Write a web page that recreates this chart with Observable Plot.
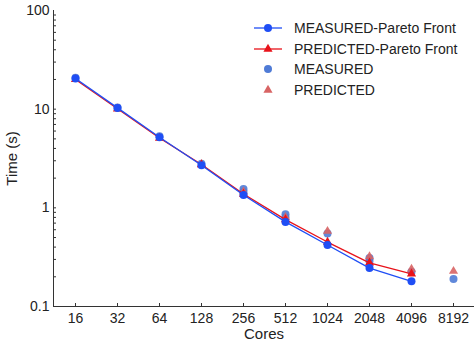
<!DOCTYPE html>
<html>
<head>
<meta charset="utf-8">
<script src="https://cdn.jsdelivr.net/npm/d3@7"></script>
<script src="https://cdn.jsdelivr.net/npm/@observablehq/plot@0.6"></script>
<style>
  body { margin: 0; background: #fff; font-family: "Liberation Sans", Arial, sans-serif; }
  #chart { position: relative; width: 474px; height: 343px; }
  #chart svg.plot { display: block; }
  .legend { position: absolute; left: 254px; top: 18px; font-size: 14px; color: #222; }
  .legend .row { display: flex; align-items: center; height: 20.5px; white-space: nowrap; }
  .legend .row svg { margin-right: 12px; flex: none; }
</style>
</head>
<body>
<div id="chart"></div>
<script>
// Core counts (categorical x axis, powers of two)
const cores = [16, 32, 64, 128, 256, 512, 1024, 2048, 4096, 8192];
const coreLabels = cores.map(String);

// Pareto fronts (time in seconds)
const paretoCores = [16, 32, 64, 128, 256, 512, 1024, 2048, 4096];
const measuredPareto = [20.5, 10.3, 5.2, 2.7, 1.35, 0.72, 0.42, 0.245, 0.18];
const predictedPareto = [20.0, 10.1, 5.1, 2.75, 1.38, 0.76, 0.45, 0.277, 0.214];

// All measured / predicted configurations
const measuredCores = [16, 32, 64, 128, 256, 256, 512, 512, 1024, 2048, 2048, 4096, 8192];
const measuredTimes = [20.8, 10.4, 5.3, 2.8, 1.55, 1.45, 0.86, 0.8, 0.55, 0.31, 0.29, 0.225, 0.19];
const predictedCores = [128, 256, 512, 1024, 2048, 4096, 8192];
const predictedTimes = [2.75, 1.45, 0.8, 0.58, 0.32, 0.24, 0.228];

// Axis ticks
const yTicks = [0.1, 1, 10, 100];
const yMinor = [0.1, 1, 10].flatMap(d => [1, 2, 3, 4, 5, 6, 7, 8, 9].map(k => +(d * k).toPrecision(2)));

const colors = {
  measuredPareto: "#1f4ef5",
  predictedPareto: "#e8121a",
  measured: "#4f7bd6",
  predicted: "#d86464"
};

const W = 474, H = 343;
const mL = 53, mR = 0, mT = 10, mB = 37;

const pareto = paretoCores.map((c, i) => ({c: String(c), m: measuredPareto[i], p: predictedPareto[i]}));
const measured = measuredCores.map((c, i) => ({c: String(c), t: measuredTimes[i]}));
const predicted = predictedCores.map((c, i) => ({c: String(c), t: predictedTimes[i]}));

const chart = Plot.plot({
  width: W,
  height: H,
  marginLeft: mL,
  marginRight: mR,
  marginTop: mT,
  marginBottom: mB,
  style: {fontFamily: "Liberation Sans, Arial, sans-serif", fontSize: "14px", color: "#222", background: "white", overflow: "visible"},
  x: {type: "point", domain: coreLabels, padding: 0.4},
  y: {type: "log", domain: [0.1, 100]},
  marks: [
    // inward tick marks
    Plot.ruleY(yMinor, {y: d => d, insetRight: W - mL - mR - 3, stroke: "#333", strokeWidth: 1}),
    Plot.ruleX(coreLabels, {x: d => d, insetTop: H - mT - mB - 3, stroke: "#333", strokeWidth: 1}),
    // tick labels
    Plot.axisX({tickSize: 0, tickPadding: 7, fontSize: 14, label: null}),
    Plot.axisY({ticks: yTicks, tickFormat: d => String(d), tickSize: 0, tickPadding: 4, fontSize: 14, label: null}),
    // axis titles
    Plot.axisX({ticks: [], label: "Cores", labelAnchor: "center", labelOffset: 32, labelArrow: "none", fontSize: 15}),
    Plot.axisY({ticks: [], label: "Time (s)", labelAnchor: "center", labelOffset: 47, labelArrow: "none", fontSize: 15}),
    Plot.frame({anchor: "left", stroke: "#333"}),
    Plot.frame({anchor: "bottom", stroke: "#333"}),
    // all configurations
    Plot.dot(measured, {x: "c", y: "t", r: 4, fill: colors.measured, fillOpacity: 0.9, symbol: "circle"}),
    Plot.dot(predicted, {x: "c", y: "t", r: 3.4, fill: colors.predicted, fillOpacity: 0.9, symbol: "triangle"}),
    // pareto fronts
    Plot.line(pareto, {x: "c", y: "p", stroke: colors.predictedPareto, strokeWidth: 1.3}),
    Plot.dot(pareto, {x: "c", y: "p", r: 3.4, fill: colors.predictedPareto, symbol: "triangle"}),
    Plot.line(pareto, {x: "c", y: "m", stroke: colors.measuredPareto, strokeWidth: 1.3}),
    Plot.dot(pareto, {x: "c", y: "m", r: 4, fill: colors.measuredPareto, symbol: "circle"})
  ]
});
document.getElementById("chart").appendChild(chart);

// Legend, placed inside the plot area
const legendItems = [
  {label: "MEASURED-Pareto Front", color: colors.measuredPareto, line: true, symbol: "circle"},
  {label: "PREDICTED-Pareto Front", color: colors.predictedPareto, line: true, symbol: "triangle"},
  {label: "MEASURED", color: colors.measured, line: false, symbol: "circle"},
  {label: "PREDICTED", color: colors.predicted, line: false, symbol: "triangle"}
];
const legend = document.createElement("div");
legend.className = "legend";
for (const item of legendItems) {
  const row = document.createElement("div");
  row.className = "row";
  const svg = d3.create("svg").attr("width", 28).attr("height", 14);
  if (item.line) svg.append("line").attr("x1", 0).attr("x2", 28).attr("y1", 7).attr("y2", 7).attr("stroke", item.color).attr("stroke-width", 1.3);
  const sym = item.symbol === "circle" ? d3.symbolCircle : d3.symbolTriangle;
  const size = item.symbol === "circle" ? Math.PI * 16 : Math.PI * 3.4 * 3.4;
  svg.append("path").attr("d", d3.symbol(sym, size)()).attr("transform", "translate(14,7)").attr("fill", item.color);
  row.appendChild(svg.node());
  const span = document.createElement("span");
  span.textContent = item.label;
  row.appendChild(span);
  legend.appendChild(row);
}
document.getElementById("chart").appendChild(legend);
</script>
</body>
</html>
